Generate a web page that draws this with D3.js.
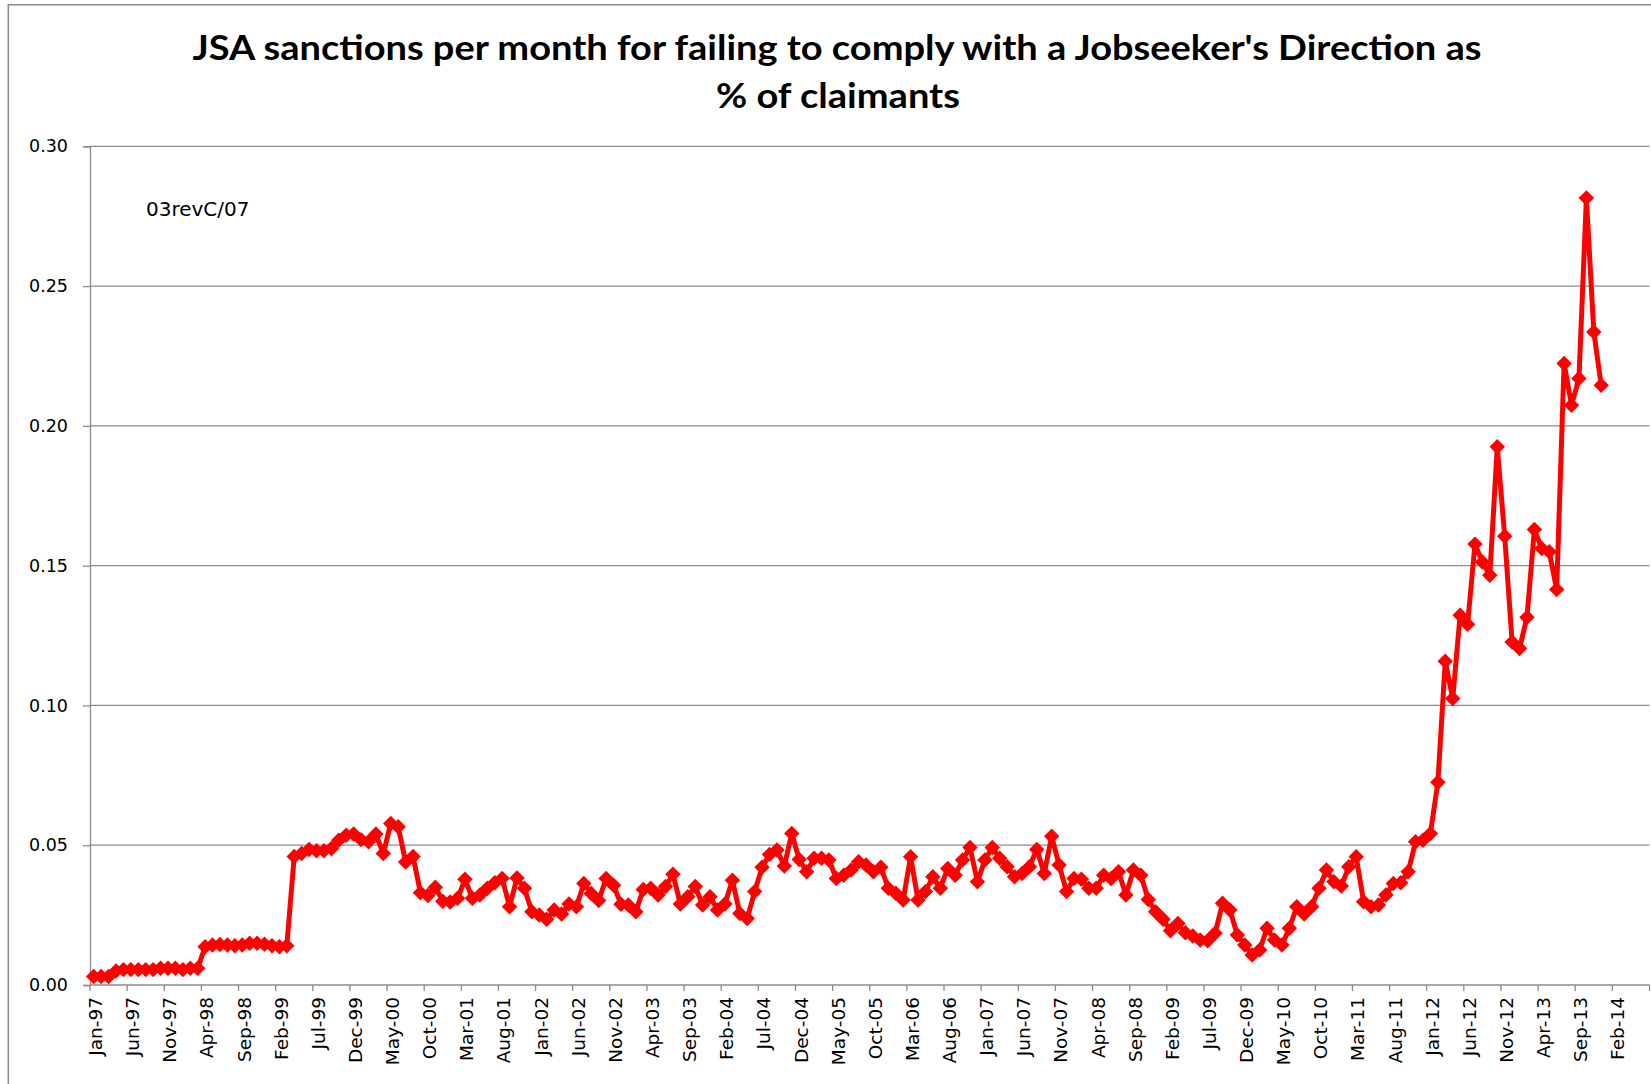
<!DOCTYPE html>
<html>
<head>
<meta charset="utf-8">
<script src="https://cdn.jsdelivr.net/npm/d3@7"></script>
<style>
  html, body { margin: 0; padding: 0; background: #fff; }
  svg { display: block; }
</style>
</head>
<body>
<svg id="chart" width="1651" height="1084"></svg>
<script>
// ---------- DATA ----------
const monthNames = ["Jan","Feb","Mar","Apr","May","Jun","Jul","Aug","Sep","Oct","Nov","Dec"];
const firstYear = 1997;
const categoryCount = 210; // Jan-97 .. Jun-14 (axis extent)
const categories = d3.range(categoryCount).map(i =>
  monthNames[i % 12] + "-" + String((firstYear + Math.floor(i / 12)) % 100).padStart(2, "0"));

// JSA sanctions for failing to comply with a Jobseeker's Direction, % of claimants, Jan-97 .. Dec-13
const values = [
  0.003, 0.003, 0.003, 0.005, 0.0055, 0.0055, 0.0055, 0.0055, 0.0055, 0.006, 0.006, 0.006,
  0.0055, 0.006, 0.006, 0.0137, 0.0143, 0.0145, 0.0143, 0.014, 0.0143, 0.0149, 0.0149, 0.0146,
  0.014, 0.0137, 0.014, 0.046, 0.047, 0.0485, 0.048, 0.048, 0.0488, 0.0518, 0.0536, 0.054,
  0.052, 0.0512, 0.054, 0.047, 0.0578, 0.0566, 0.044, 0.046, 0.033, 0.032, 0.035, 0.030,
  0.0297, 0.031, 0.0378, 0.031, 0.0322, 0.0346, 0.0366, 0.0381, 0.028, 0.0383, 0.0346, 0.0262,
  0.025, 0.0235, 0.0268, 0.0254, 0.029, 0.028, 0.0363, 0.0327, 0.0302, 0.0381, 0.0357, 0.0289,
  0.0286, 0.0262, 0.0342, 0.0346, 0.0322, 0.0352, 0.0396, 0.029, 0.0316, 0.0352, 0.0286, 0.0316,
  0.0268, 0.029, 0.0375, 0.0256, 0.0238, 0.0334, 0.0421, 0.0467, 0.0483, 0.0426, 0.0542, 0.0449,
  0.0405, 0.0453, 0.0453, 0.0447, 0.0381, 0.0393, 0.0411, 0.0441, 0.0429, 0.0405, 0.0421, 0.0346,
  0.0328, 0.0304, 0.0459, 0.0304, 0.0334, 0.0387, 0.0346, 0.0417, 0.0393, 0.0447, 0.0492, 0.0369,
  0.0447, 0.0492, 0.0453, 0.0423, 0.0387, 0.0399, 0.0423, 0.0485, 0.0399, 0.0532, 0.0429, 0.0334,
  0.0381, 0.0378, 0.0346, 0.0346, 0.0393, 0.0381, 0.0405, 0.0322, 0.0411, 0.0393, 0.0306, 0.0262,
  0.0235, 0.0194, 0.022, 0.0187, 0.0175, 0.0161, 0.0158, 0.0185, 0.0292, 0.0268, 0.0179, 0.0143,
  0.0107, 0.0125, 0.0203, 0.0161, 0.0143, 0.0203, 0.028, 0.0254, 0.028, 0.0346, 0.0411, 0.0369,
  0.0354, 0.0423, 0.0459, 0.0298, 0.028, 0.0286, 0.0322, 0.0363, 0.0366, 0.0405, 0.0512, 0.0518,
  0.0542, 0.0725, 0.1158, 0.1025, 0.1323, 0.129, 0.1577, 0.1513, 0.1466, 0.1925, 0.1605, 0.1227,
  0.1204, 0.1315, 0.1629, 0.1561, 0.155, 0.1415, 0.2223, 0.2074, 0.2169, 0.2815, 0.2336, 0.2145
];

const yTicks = [0, 0.05, 0.10, 0.15, 0.20, 0.25, 0.30];
const labelStep = 5;
const xTickLabels = categories.filter((d, i) => i % labelStep === 0);
const titleLines = ["JSA sanctions per month for failing to comply with a Jobseeker's Direction as", "% of claimants"];
const annotation = "03revC/07";

// ---------- LAYOUT ----------
const svg = d3.select("#chart");
const plot = { left: 90, right: 1649.5, top: 146.3, bottom: 985 };
const gridColor = "#8c8c8c";

const x = d3.scaleBand().domain(categories).range([plot.left, plot.right]).paddingInner(0).paddingOuter(0);
const y = d3.scaleLinear().domain([0, 0.30]).range([plot.bottom, plot.top]);
const bw = x.bandwidth();

// chart border (left + top visible)
svg.append("path")
  .attr("d", d3.line()([[8.3, 1084], [8.3, 4.7], [1651, 4.7]]))
  .attr("fill", "none").attr("stroke", gridColor).attr("stroke-width", 1.5);

// title
const title = svg.append("g").attr("font-family", "Lato, 'Open Sans', sans-serif")
  .attr("font-weight", 700).attr("font-size", 35).attr("fill", "#000").attr("text-anchor", "middle");
title.append("text").attr("x", 837).attr("y", 60).attr("textLength", 1289)
  .attr("lengthAdjust", "spacingAndGlyphs").text(titleLines[0]);
title.append("text").attr("x", 838).attr("y", 108).attr("textLength", 244)
  .attr("lengthAdjust", "spacingAndGlyphs").text(titleLines[1]);

// gridlines
svg.append("g").selectAll("line").data(yTicks.filter(d => d > 0)).join("line")
  .attr("x1", plot.left).attr("x2", plot.right)
  .attr("y1", d => y(d)).attr("y2", d => y(d))
  .attr("stroke", gridColor).attr("stroke-width", 1.3);

// y axis
const yAxis = svg.append("g").attr("transform", `translate(${plot.left},0)`)
  .call(d3.axisLeft(y).tickValues(yTicks).tickFormat(d3.format(".2f")).tickSize(7).tickPadding(15));
yAxis.select(".domain").attr("stroke", gridColor).attr("stroke-width", 1.3);
yAxis.selectAll(".tick line").attr("stroke", gridColor).attr("stroke-width", 1.3);
yAxis.selectAll(".tick text").attr("font-family", "'DejaVu Sans', sans-serif")
  .attr("font-size", 17.5).attr("fill", "#000");

// x axis
const xAxis = svg.append("g").attr("transform", `translate(0,${plot.bottom})`);
xAxis.append("line").attr("x1", plot.left).attr("x2", plot.right).attr("y1", 0).attr("y2", 0)
  .attr("stroke", gridColor).attr("stroke-width", 1.3);
const boundaries = d3.range(0, categoryCount + 1, labelStep);
xAxis.selectAll("line.tk").data(boundaries).join("line").attr("class", "tk")
  .attr("x1", i => plot.left + i * bw).attr("x2", i => plot.left + i * bw)
  .attr("y1", 0).attr("y2", 6).attr("stroke", gridColor).attr("stroke-width", 1.3);
xAxis.selectAll("text").data(xTickLabels).join("text")
  .attr("transform", d => `translate(${x(d) + bw / 2},12) rotate(-90)`)
  .attr("dy", "0.45em").attr("text-anchor", "end")
  .attr("font-family", "'DejaVu Sans', sans-serif").attr("font-size", 18.5).attr("fill", "#000")
  .text(d => d);

// annotation
svg.append("text").attr("x", 146).attr("y", 216)
  .attr("font-family", "'DejaVu Sans', sans-serif").attr("font-size", 20).attr("fill", "#000")
  .text(annotation);

// series
const series = values.map((v, i) => ({ cat: categories[i], v }));
svg.append("path").datum(series)
  .attr("fill", "none").attr("stroke", "#ff0000").attr("stroke-width", 5)
  .attr("stroke-linejoin", "round")
  .attr("d", d3.line().x(d => x(d.cat) + bw / 2).y(d => y(d.v)));

const diamond = d3.symbol().type(d3.symbolSquare).size(120);
svg.append("g").selectAll("path").data(series).join("path")
  .attr("transform", d => `translate(${x(d.cat) + bw / 2},${y(d.v)}) rotate(45)`)
  .attr("d", diamond).attr("fill", "#ff0000");
</script>
</body>
</html>
